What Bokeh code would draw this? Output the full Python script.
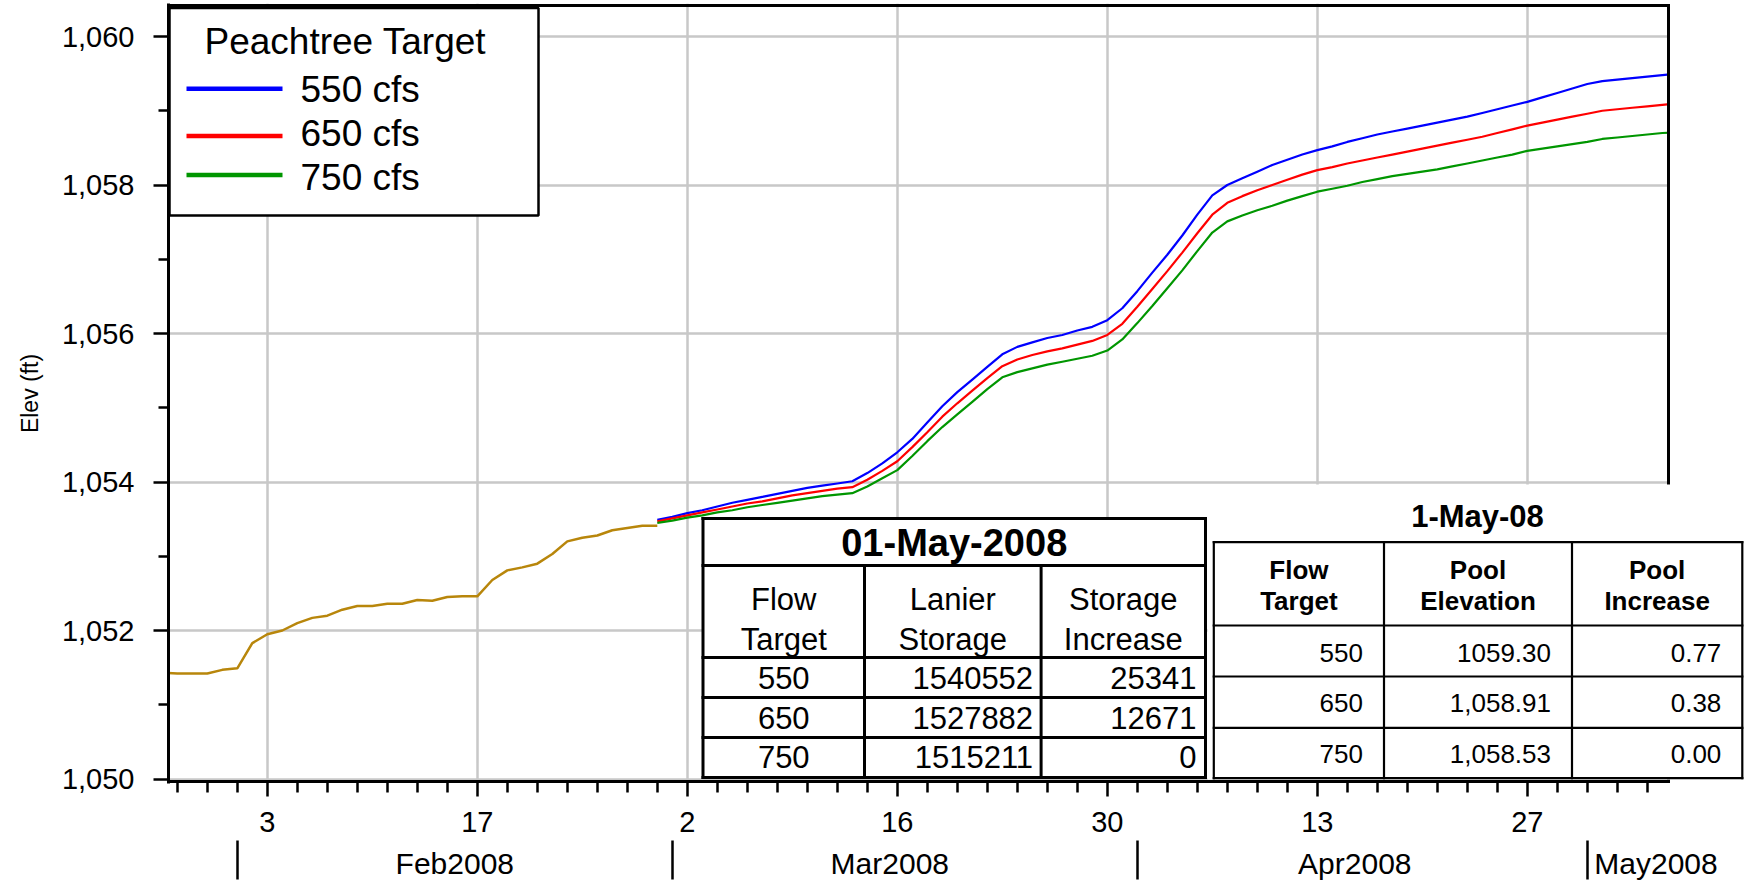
import pandas as pd
from bokeh.plotting import figure
from bokeh.models import (Range1d, FixedTicker, DatetimeAxis, CustomJSTickFormatter,
                          NumeralTickFormatter, BoxAnnotation, Label)
from bokeh.embed import file_html
from bokeh.resources import INLINE

# ---------------- data ----------------
observed_start = "2008-01-27"
observed_elev = [1051.43, 1051.42, 1051.42, 1051.42, 1051.47, 1051.49, 1051.83, 1051.95,
                 1052.00, 1052.10, 1052.17, 1052.20, 1052.28, 1052.33, 1052.33, 1052.36,
                 1052.36, 1052.41, 1052.40, 1052.45, 1052.46, 1052.46, 1052.68, 1052.81,
                 1052.85, 1052.90, 1053.03, 1053.20, 1053.25, 1053.28, 1053.35, 1053.38,
                 1053.41, 1053.41]

sim_start = "2008-02-29"
elev_550 = [1053.49, 1053.53, 1053.58, 1053.62, 1053.67, 1053.72, 1053.76, 1053.80, 1053.84,
            1053.88, 1053.92, 1053.95, 1053.98, 1054.01, 1054.12, 1054.25, 1054.40, 1054.58,
            1054.80, 1055.02, 1055.21, 1055.38, 1055.55, 1055.72, 1055.82, 1055.88, 1055.94,
            1055.98, 1056.04, 1056.09, 1056.18, 1056.34, 1056.57, 1056.82, 1057.06, 1057.32,
            1057.60, 1057.86, 1058.00, 1058.09, 1058.18, 1058.27, 1058.34, 1058.41, 1058.47,
            1058.52, 1058.58, 1058.63, 1058.68, 1058.72, 1058.76, 1058.80, 1058.84, 1058.88,
            1058.92, 1058.97, 1059.02, 1059.07, 1059.12, 1059.18, 1059.24, 1059.30, 1059.36,
            1059.40, 1059.42, 1059.44, 1059.46, 1059.48, 1059.50]
elev_650 = [1053.47, 1053.51, 1053.55, 1053.59, 1053.63, 1053.67, 1053.71, 1053.74, 1053.78,
            1053.82, 1053.85, 1053.88, 1053.91, 1053.93, 1054.03, 1054.15, 1054.28, 1054.47,
            1054.67, 1054.88, 1055.06, 1055.23, 1055.40, 1055.56, 1055.65, 1055.71, 1055.76,
            1055.80, 1055.85, 1055.90, 1055.98, 1056.13, 1056.36, 1056.60, 1056.84, 1057.09,
            1057.35, 1057.60, 1057.76, 1057.85, 1057.93, 1058.00, 1058.07, 1058.14, 1058.20,
            1058.24, 1058.29, 1058.33, 1058.37, 1058.41, 1058.45, 1058.49, 1058.53, 1058.57,
            1058.61, 1058.65, 1058.70, 1058.75, 1058.80, 1058.84, 1058.88, 1058.92, 1058.96,
            1059.00, 1059.02, 1059.04, 1059.06, 1059.08, 1059.10]
elev_750 = [1053.45, 1053.48, 1053.52, 1053.55, 1053.59, 1053.62, 1053.66, 1053.69, 1053.72,
            1053.75, 1053.78, 1053.81, 1053.83, 1053.85, 1053.94, 1054.05, 1054.16, 1054.35,
            1054.55, 1054.74, 1054.91, 1055.08, 1055.25, 1055.41, 1055.48, 1055.53, 1055.58,
            1055.62, 1055.66, 1055.70, 1055.77, 1055.92, 1056.14, 1056.37, 1056.61, 1056.85,
            1057.11, 1057.36, 1057.51, 1057.59, 1057.66, 1057.72, 1057.79, 1057.85, 1057.91,
            1057.95, 1057.99, 1058.04, 1058.08, 1058.12, 1058.15, 1058.18, 1058.21, 1058.25,
            1058.29, 1058.33, 1058.37, 1058.41, 1058.46, 1058.49, 1058.52, 1058.55, 1058.58,
            1058.62, 1058.64, 1058.66, 1058.68, 1058.70, 1058.71]

series_names = ["550 cfs", "650 cfs", "750 cfs"]
series_colors = ["#0000ff", "#ff0000", "#009600"]
observed_color = "#b8860b"
legend_title = "Peachtree Target"

y_ticks = [1050, 1052, 1054, 1056, 1058, 1060]
y_minor_ticks = [1051, 1053, 1055, 1057, 1059]
day_ticks = ["2008-02-03", "2008-02-17", "2008-03-02", "2008-03-16",
             "2008-03-30", "2008-04-13", "2008-04-27"]
month_starts = ["2008-02-01", "2008-03-01", "2008-04-01", "2008-05-01"]
month_label_pos = ["2008-02-15 12:00", "2008-03-15 12:00", "2008-04-15 12:00", "2008-05-05 14:00"]
month_labels = ["Feb2008", "Mar2008", "Apr2008", "May2008"]

table1_title = "01-May-2008"
table1_headers = [["Flow", "Target"], ["Lanier", "Storage"], ["Storage", "Increase"]]
flow_targets = ["550", "650", "750"]
lanier_storage = ["1540552", "1527882", "1515211"]
storage_increase = ["25341", "12671", "0"]

table2_title = "1-May-08"
table2_headers = [["Flow", "Target"], ["Pool", "Elevation"], ["Pool", "Increase"]]
pool_elevation = ["1059.30", "1,058.91", "1,058.53"]
pool_increase = ["0.77", "0.38", "0.00"]

# ---------------- layout constants (canvas pixels) ----------------
DAY_MS = 86400000.0
def ms(s):
    return pd.Timestamp(s).value / 1e6

W, H = 1746, 886
FL, FT, FB = 168.0, 3.0, 783.0        # frame left / top / bottom
FR = float(W)                         # frame runs to the canvas edge
VFR = 1668.0                          # visible right border of the plot box
FEB3_PX, PX_PER_DAY = 266.8, 15.0
Y1060_PX, PX_PER_FT = 36.0, 74.25

x_start = ms("2008-02-03") - (FEB3_PX - FL) / PX_PER_DAY * DAY_MS
x_end = x_start + (FR - FL) / PX_PER_DAY * DAY_MS
y_end = 1060 + (Y1060_PX - FT) / PX_PER_FT
y_start = 1060 - (FB - Y1060_PX) / PX_PER_FT

def X(px):
    return x_start + (px - FL) * (x_end - x_start) / (FR - FL)

def Y(py):
    return y_end - (py - FT) * (y_end - y_start) / (FB - FT)

FONT = "Liberation Sans"

p = figure(width=W, height=H, x_axis_type="datetime", output_backend="svg",
           toolbar_location=None, tools="",
           x_range=Range1d(x_start, x_end), y_range=Range1d(y_start, y_end),
           min_border_left=int(FL), min_border_right=0,
           min_border_top=int(FT), min_border_bottom=int(H - FB),
           background_fill_color="white", border_fill_color="white",
           outline_line_color=None)

# ---- grids ----
for g in (p.xgrid[0], p.ygrid[0]):
    g.grid_line_color = "#c8c8c8"
    g.grid_line_width = 2.5

# ---- y axis ----
ya = p.yaxis[0]
ya.ticker = FixedTicker(ticks=y_ticks, minor_ticks=y_minor_ticks)
ya.formatter = NumeralTickFormatter(format="0,0")
ya.axis_label = "Elev (ft)"
ya.axis_label_text_font = FONT
ya.axis_label_text_font_size = "23px"
ya.axis_label_text_font_style = "normal"
ya.axis_label_text_color = "black"
ya.axis_label_standoff = 16
ya.major_label_text_font = FONT
ya.major_label_text_font_size = "29px"
ya.major_label_text_color = "black"
ya.major_label_standoff = 19
ya.axis_line_width = 3
ya.axis_line_color = "black"
ya.major_tick_out, ya.major_tick_in = 15, 0
ya.minor_tick_out, ya.minor_tick_in = 10, 0
ya.major_tick_line_width = 2.5
ya.minor_tick_line_width = 2.5
ya.major_tick_line_color = "black"
ya.minor_tick_line_color = "black"

# ---- x axis: days ----
day_ms = [ms(d) for d in day_ticks]
minor_ms = [ms(d) for d in pd.date_range("2008-01-28", "2008-05-06", freq="2D")
            if ms(d) not in day_ms]
xa = p.xaxis[0]
xa.ticker = FixedTicker(ticks=day_ms, minor_ticks=minor_ms)
xa.formatter = CustomJSTickFormatter(code="return String(new Date(tick).getUTCDate());")
xa.major_label_text_font = FONT
xa.major_label_text_font_size = "29px"
xa.major_label_text_color = "black"
xa.major_label_standoff = 15
xa.axis_line_color = None           # drawn below as a box so it can stop at the plot edge
xa.major_tick_out, xa.major_tick_in = 13, 2
xa.minor_tick_out, xa.minor_tick_in = 9, 2
xa.major_tick_line_width = 2.5
xa.minor_tick_line_width = 2.5
xa.major_tick_line_color = "black"
xa.minor_tick_line_color = "black"

# ---- x axis: months ----
mpos = [ms(d) for d in month_label_pos]
ma = DatetimeAxis(
    ticker=FixedTicker(ticks=mpos, minor_ticks=[ms(d) for d in month_starts]),
    formatter=CustomJSTickFormatter(args=dict(pos=mpos, labels=month_labels), code="""
        let best = 0;
        for (let i = 0; i < pos.length; i++) {
            if (Math.abs(pos[i] - tick) < Math.abs(pos[best] - tick)) best = i;
        }
        return labels[best];
    """))
ma.axis_line_color = None
ma.major_tick_line_color = None
ma.major_tick_out, ma.major_tick_in = 0, 0
ma.minor_tick_line_color = "black"
ma.minor_tick_line_width = 2.5
ma.minor_tick_out, ma.minor_tick_in = 6, -45
ma.major_label_standoff = 6
ma.major_label_text_font = FONT
ma.major_label_text_font_size = "30px"
ma.major_label_text_color = "black"
p.add_layout(ma, "below")

# ---- series ----
obs_dates = pd.date_range(observed_start, periods=len(observed_elev), freq="D")
sim_dates = pd.date_range(sim_start, periods=len(elev_550), freq="D")
p.line(obs_dates, observed_elev, line_color=observed_color, line_width=2.5)
for vals, col in zip([elev_550, elev_650, elev_750], series_colors):
    p.line(sim_dates, vals, line_color=col, line_width=2.2)

# ---- annotation helpers ----
def box(l, r, t, b, fill="white", line=None, lw=0):
    p.add_layout(BoxAnnotation(left=X(l), right=X(r), top=Y(t), bottom=Y(b),
                               fill_color=fill, fill_alpha=1.0,
                               line_color=line, line_width=lw, line_alpha=1.0,
                               line_dash="solid"))

def hline(x0, x1, y, lw):
    box(x0 - lw / 2, x1 + lw / 2, y - lw / 2, y + lw / 2, fill="black")

def vline(x, y0, y1, lw):
    box(x - lw / 2, x + lw / 2, y0 - lw / 2, y1 + lw / 2, fill="black")

def text(px, py, s, size, align="left", bold=False):
    # py is the vertical centre of the capitals
    p.add_layout(Label(x=X(px), y=Y(py), text=s, text_font=FONT,
                       text_font_size=f"{size}px",
                       text_font_style="bold" if bold else "normal",
                       text_align=align, text_baseline="alphabetic",
                       text_color="black"))

# blank margin right of the plot box, then its top / right border
box(VFR + 1.5, FR + 2, 0, FB + 2, fill="white")
hline(FL, VFR, 5.0, 3)
vline(VFR, 5.0, FB - 2, 3)

# ---- legend ----
box(169, 538, 7.5, 215, fill="white", line="black", lw=2.5)
text(204, 41, legend_title, 37)
for name, col, ly, ty in zip(series_names, series_colors,
                             [88.3, 135.5, 174.5], [88.8, 132.8, 177.1]):
    box(186, 282, ly - 2.3, ly + 2.3, fill=col)
    text(300, ty, name, 37)

# ---- table 1 ----
t1x = [702.5, 864, 1040.6, 1205]
t1y = [518, 565, 657, 697, 737, 777]
box(t1x[0], t1x[-1], t1y[0], t1y[-1], fill="white")
for yy in t1y:
    hline(t1x[0], t1x[-1], yy, 3)
vline(t1x[0], t1y[0], t1y[-1], 3)
vline(t1x[-1], t1y[0], t1y[-1], 3)
for xx in t1x[1:-1]:
    vline(xx, t1y[1], t1y[-1], 3)
text((t1x[0] + t1x[-1]) / 2, 542.8, table1_title, 38, "center", bold=True)
for c, (h1, h2) in enumerate(table1_headers):
    cx = (t1x[c] + t1x[c + 1]) / 2
    text(cx, 599, h1, 31, "center")
    text(cx, 639, h2, 31, "center")
for r, mid in enumerate([677, 717, 756]):
    text((t1x[0] + t1x[1]) / 2, mid, flow_targets[r], 31, "center")
    text(t1x[2] - 8, mid, lanier_storage[r], 31, "right")
    text(t1x[3] - 9, mid, storage_increase[r], 31, "right")

# ---- table 2 ----
box(1207, FR + 2, 484, 779.3, fill="white")
t2x = [1213.3, 1383.5, 1571.5, 1741.8]
t2y = [541.7, 625, 676, 727.3, 777.7]
for yy in t2y:
    hline(t2x[0], t2x[-1], yy, 2.2)
for xx in t2x:
    vline(xx, t2y[0], t2y[-1], 2.2)
text(1477, 515.5, table2_title, 31, "center", bold=True)
for c, (h1, h2) in enumerate(table2_headers):
    cx = (t2x[c] + t2x[c + 1]) / 2
    text(cx, 569.2, h1, 26, "center", bold=True)
    text(cx, 600.2, h2, 26, "center", bold=True)
for r, mid in enumerate([652.5, 702.5, 753.5]):
    text(t2x[1] - 21, mid, flow_targets[r], 26, "right")
    text(t2x[2] - 21, mid, pool_elevation[r], 26, "right")
    text(t2x[3] - 21, mid, pool_increase[r], 26, "right")

# x-axis line of the plot box
hline(FL, VFR, 781.0, 3)

open("out.html", "w").write(file_html(p, INLINE))
